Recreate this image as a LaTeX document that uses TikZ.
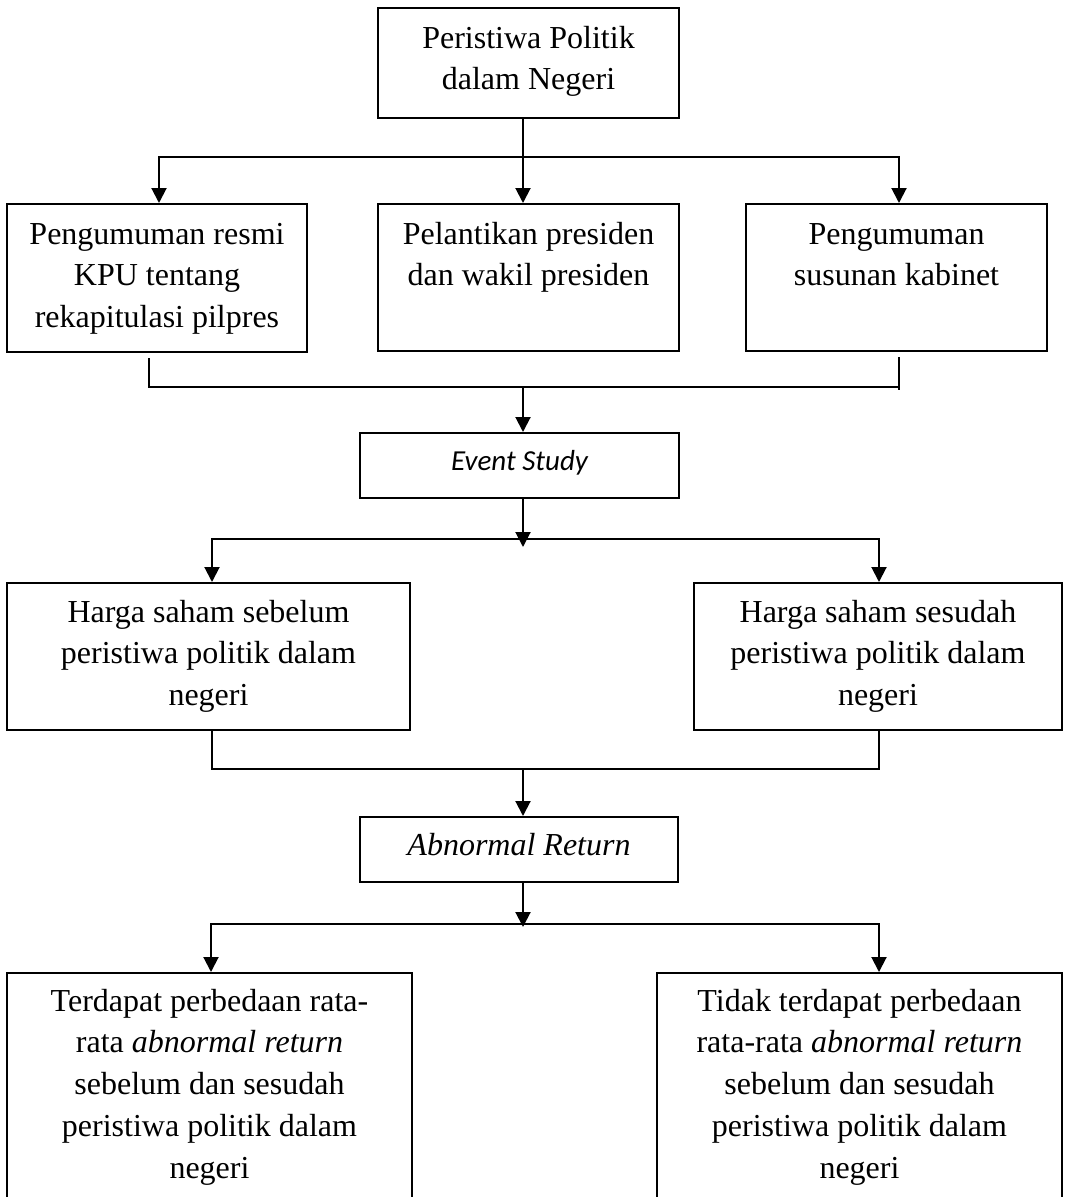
\documentclass[tikz,border=0pt]{standalone}
\usepackage{fontspec}
\setmainfont{Liberation Serif}
\newfontfamily\calibrifont{Carlito}
\usetikzlibrary{arrows.meta,calc}
\begin{document}
\begin{tikzpicture}[x=1pt,y=-1pt,
  box/.style={draw, line width=2pt, inner sep=0pt, anchor=north west},
  txt/.style={inner sep=0pt, align=center, anchor=north, font=\fontsize{32}{41.8}\selectfont},
  conn/.style={line width=2pt, line join=miter},
  arr/.style={conn, -{Triangle[length=15pt,width=15pt]}},
  arrtwo/.style={conn, {Triangle[length=15pt,width=15pt]}-{Triangle[length=15pt,width=15pt]}},
]
\useasboundingbox (0,0) rectangle (1068,1197);
\fill[white] (0,0) rectangle (1068,1197);
\clip (0,0) rectangle (1068,1197);

% boxes
\node[box, minimum width=301pt, minimum height=110pt] (top) at (377,7) {};
\node[box, minimum width=300pt, minimum height=148pt] (b1) at (6,203) {};
\node[box, minimum width=301pt, minimum height=147pt] (b2) at (377,203) {};
\node[box, minimum width=301pt, minimum height=147pt] (b3) at (745,203) {};
\node[box, minimum width=319pt, minimum height=65pt] (es) at (359,432) {};
\node[box, minimum width=403pt, minimum height=147pt] (h1) at (6,582) {};
\node[box, minimum width=368pt, minimum height=147pt] (h2) at (693,582) {};
\node[box, minimum width=318pt, minimum height=65pt] (ar) at (359,816) {};
\node[box, minimum width=405pt, minimum height=260pt] (t1) at (6,972) {};
\node[box, minimum width=405pt, minimum height=260pt] (t2) at (656,972) {};

% texts
\node[txt] (topT) at (top.north |- 0,18.6) {\strut Peristiwa Politik\\dalam Negeri};
\node[txt] (b1T) at (b1.north |- 0,214.6) {\strut Pengumuman resmi\\KPU tentang\\rekapitulasi pilpres};
\node[txt] (b2T) at (b2.north |- 0,214.6) {\strut Pelantikan presiden\\dan wakil presiden};
\node[txt] (b3T) at (b3.north |- 0,214.6) {\strut Pengumuman\\susunan kabinet};
\node[inner sep=0pt, anchor=base, font=\calibrifont\itshape\fontsize{29}{35}\selectfont] (esT) at (es.north |- 0,470) {Event Study};
\node[txt] (h1T) at (h1.north |- 0,592.6) {\strut Harga saham sebelum\\peristiwa politik dalam\\negeri};
\node[txt] (h2T) at (h2.north |- 0,592.6) {\strut Harga saham sesudah\\peristiwa politik dalam\\negeri};
\node[inner sep=0pt, anchor=base, font=\itshape\fontsize{32}{41.8}\selectfont] (arT) at (ar.north |- 0,855) {Abnormal Return};
\node[txt] (t1T) at (t1.north |- 0,981.6) {\strut Terdapat perbedaan rata-\\rata \textit{abnormal return}\\sebelum dan sesudah\\peristiwa politik dalam\\negeri};
\node[txt] (t2T) at (t2.north |- 0,981.6) {\strut Tidak terdapat perbedaan\\rata-rata \textit{abnormal return}\\sebelum dan sesudah\\peristiwa politik dalam\\negeri};

% junction coordinates
\coordinate (cx) at (523,0);
\coordinate (j1L) at (159,157);
\coordinate (j1R) at (899,157);
\coordinate (m2L) at (149,387);
\coordinate (m2R) at (899,387);
\coordinate (j3L) at (212,539);
\coordinate (j3R) at (879,539);
\coordinate (j3C) at (523,547);
\coordinate (m4L) at (212,769);
\coordinate (m4R) at (879,769);
\coordinate (j5L) at (211,924);
\coordinate (j5R) at (879,924);
\coordinate (j5C) at (523,927);

% level 1
\draw[arr] (cx |- top.south) -- (cx |- b2.north);
\draw[arrtwo] (j1L |- b1.north) -- (j1L) -- (j1R) -- (j1R |- b3.north);

% level 2 merge
\draw[conn] ([yshift=-5pt]b1.south -| m2L) -- (m2L) -- (m2R);
\draw[conn] ([yshift=-5pt]b3.south -| m2R) -- ($(m2R)+(0,3)$);
\draw[arr] (cx |- m2L) -- (cx |- es.north);

% level 3
\draw[arr] (cx |- es.south) -- (j3C);
\draw[arrtwo] (j3L |- h1.north) -- (j3L) -- (j3R) -- (j3R |- h2.north);

% level 4 merge
\draw[conn] (h1.south -| m4L) -- (m4L) -- (m4R) -- (h2.south -| m4R);
\draw[arr] (cx |- m4L) -- (cx |- ar.north);

% level 5
\draw[arr] (cx |- ar.south) -- (j5C);
\draw[arrtwo] (j5L |- t1.north) -- (j5L) -- (j5R) -- (j5R |- t2.north);
\end{tikzpicture}
\end{document}
